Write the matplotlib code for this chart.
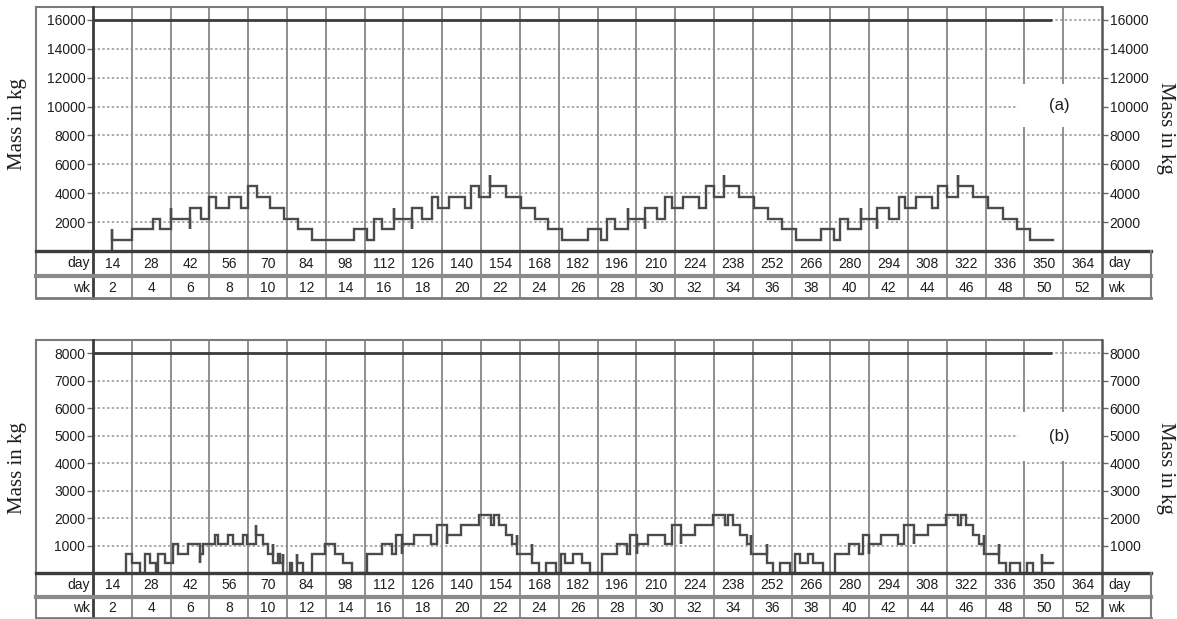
import matplotlib
matplotlib.use('Agg')
import matplotlib.pyplot as plt
from matplotlib.lines import Line2D
from matplotlib.patches import Rectangle
import matplotlib.transforms as mtransforms

plt.rcParams['font.family'] = ['Liberation Sans', 'DejaVu Sans']

# ---------------- data ----------------
day_labels = [14, 28, 42, 56, 70, 84, 98, 112, 126, 140, 154, 168, 182,
              196, 210, 224, 238, 252, 266, 280, 294, 308, 322, 336, 350, 364]
week_labels = [2, 4, 6, 8, 10, 12, 14, 16, 18, 20, 22, 24, 26,
               28, 30, 32, 34, 36, 38, 40, 42, 44, 46, 48, 50, 52]

ticks_a = [2000, 4000, 6000, 8000, 10000, 12000, 14000, 16000]
ticks_b = [1000, 2000, 3000, 4000, 5000, 6000, 7000, 8000]

cap_a_days = [7, 353]
cap_a_kg = [16000, 16000]
cap_b_days = [7, 353]
cap_b_kg = [8000, 8000]

# panel (a): stock trace, vertices (day, kg) drawn as post-steps
a_days = [14, 14, 14, 21, 28.5, 31, 35, 35, 42, 42, 46, 49, 51.3, 56, 60.5, 63, 66,
          71, 76, 81, 86,
          101.2, 106, 108.2, 111.2, 115.5, 115.5, 122, 122, 125.8, 129.2, 131.6,
          135.5, 141.2, 143.5, 146.4, 150.3, 150.3, 155.9, 161.3, 166.4, 171.3, 176.1,
          185.4, 190.3, 192.3, 195.3, 200.1, 200.1, 206, 206, 210.3, 213.5, 215.7,
          220, 225.6, 228, 231, 234.8, 234.8, 239.9, 245.6, 250.6, 255.6, 260.5,
          269.6, 274.3, 276.5, 279.5, 284, 284, 289.8, 289.8, 294, 297.6, 299.8,
          304, 309.6, 312, 315, 319, 319, 324.4, 330, 335.2, 340.2, 345, 353.4]
a_kg = [0, 1500, 750, 1500, 2250, 1500, 3000, 2250, 1500, 3000, 2250, 3750, 3000, 3750, 3000, 4500, 3750,
        3000, 2250, 1500, 750,
        1500, 750, 2250, 1500, 3000, 2250, 1500, 3000, 2250, 3750, 3000,
        3750, 3000, 4500, 3750, 5250, 4500, 3750, 3000, 2250, 1500, 750,
        1500, 750, 2250, 1500, 3000, 2250, 1500, 3000, 2250, 3750, 3000,
        3750, 3000, 4500, 3750, 5250, 4500, 3750, 3000, 2250, 1500, 750,
        1500, 750, 2250, 1500, 3000, 2250, 1500, 3000, 2250, 3750, 3000,
        3750, 3000, 4500, 3750, 5250, 4500, 3750, 3000, 2250, 1500, 750, 750]

# panel (b): stock trace, vertices (day, kg) drawn as post-steps
b_days = [18.9, 18.9, 21, 24, 25.8, 27.5, 29.8, 30.6, 33, 35.7, 37.8, 41.4, 45.6, 45.6,
          46.8, 51, 52.2, 55.8, 57.6, 61.2, 62.4, 65.8, 65.8, 68.5, 70.3, 72.1, 72.1,
          73.9, 74.5, 75.7, 75.7, 78.1, 78.7, 80.5, 80.5, 82.9, 85.9, 90.7, 94.3, 97.3, 100.3,
          106, 111.4, 115, 116.2, 118.6, 118.6, 122.8, 128.8, 131.2, 134.8, 134.8, 139.6,
          146.3, 150.5, 151.7, 153.5, 156, 158.3, 160, 160, 165.5, 165.5, 168,
          170.6, 174.2, 176, 177.2, 180.2, 183.3, 186.3,
          190.5, 195.9, 199.5, 200.7, 203.1, 203.1, 207.3, 213.3, 215.7, 219.3, 219.3, 224.1,
          230.8, 235, 236.2, 238, 240.4, 242.8, 244.5, 244.5, 250, 250, 252.4,
          255, 258.4, 260.2, 262, 265, 266.9, 270.5,
          274.5, 279.9, 283.5, 284.7, 287.1, 287.1, 291.3, 297.3, 299.7, 303.3, 303.3, 308.1,
          314.8, 319, 320.2, 322, 324.4, 326.8, 328.5, 328.5, 334, 334, 336.5,
          337.8, 341.4, 343.8, 346.2, 349.5, 349.5, 353.4]
b_kg = [0, 700, 350, 0, 700, 350, 0, 700, 350, 1050, 700, 1050, 350, 700,
        1050, 1400, 1050, 1400, 1050, 1400, 1050, 1750, 1400, 1050, 700, 1050, 350,
        700, 350, 700, 0, 350, 0, 700, 350, 0, 700, 1050, 700, 350, 0,
        700, 1050, 700, 1400, 700, 1050, 1400, 1050, 1750, 1050, 1400, 1750,
        2100, 1750, 2100, 1750, 1400, 1050, 1400, 700, 1050, 350, 0,
        350, 0, 700, 350, 700, 350, 0,
        700, 1050, 700, 1400, 700, 1050, 1400, 1050, 1750, 1050, 1400, 1750,
        2100, 1750, 2100, 1750, 1400, 1050, 1400, 700, 1050, 350, 0,
        350, 0, 700, 350, 700, 350, 0,
        700, 1050, 700, 1400, 700, 1050, 1400, 1050, 1750, 1050, 1400, 1750,
        2100, 1750, 2100, 1750, 1400, 1050, 1400, 700, 1050, 350, 0,
        350, 0, 350, 0, 700, 350, 350]

# ---------------- layout ----------------
W, H = 1177, 619
fig = plt.figure(figsize=(W / 100, H / 100), dpi=100)
fig.patch.set_facecolor('white')

PL, PR = 93, 1102      # plot area left/right (px)
FL, TR = 36, 1151      # outer frame left, table right (px)
X0, X1 = 7, 371        # day range of plot area
bounds = [d + 7 for d in day_labels[:-1]]

TXT = '#1e1e1e'
GRID_V = '#8e8e8e'
GRID_H = '#a4a4a4'
FRAME = '#7a7a7a'
DARK = '#3c3c3c'


def fig_line(xs, ys, **kw):
    fig.add_artist(Line2D([x / W for x in xs], [1 - y / H for y in ys],
                          transform=fig.transFigure, **kw))


def panel(top, zero, sep, bottom, ymax, ticks, days, kg, cdays, ckg, tag,
          tag_box, ylab_l, ylab_r):
    hpx = zero - top
    ax = fig.add_axes([PL / W, 1 - zero / H, (PR - PL) / W, hpx / H])
    ax.set_xlim(X0, X1)
    ax.set_ylim(0, ymax)
    for s in ax.spines.values():
        s.set_visible(False)
    ax.set_xticks([])
    ax.set_yticks(ticks)
    ax.set_yticklabels([str(t) for t in ticks])
    ax.tick_params(axis='y', which='both', left=True, right=True,
                   labelleft=True, labelright=True, length=4, width=1.0,
                   color='#666666', labelsize=10, labelcolor=TXT, pad=1.5)
    ax.grid(axis='y', linestyle=(0, (1.3, 1.3)), color=GRID_H, lw=1.3, zorder=0)
    ax.set_axisbelow(True)
    trans = mtransforms.blended_transform_factory(ax.transData, ax.transAxes)
    yb = (zero - bottom) / hpx
    for b in bounds:
        ax.plot([b, b], [yb, 1], transform=trans, clip_on=False,
                color=GRID_V, lw=1.4, zorder=1)
    # label box for the panel tag
    bx0, by0, bx1, by1 = tag_box
    ax.add_patch(Rectangle(((bx0 - PL) / (PR - PL), (zero - by1) / hpx),
                           (bx1 - bx0) / (PR - PL), (by1 - by0) / hpx,
                           transform=ax.transAxes, facecolor='white',
                           edgecolor='none', zorder=2))
    ax.text((bx0 + bx1) / 2 - PL + 0.0, 0, '', transform=ax.transAxes)
    ax.text(((bx0 + bx1) / 2 - PL) / (PR - PL), (zero - (by0 + by1) / 2) / hpx,
            tag, transform=ax.transAxes, ha='center', va='center',
            fontsize=12, color=TXT, zorder=3)
    # series
    ax.plot(cdays, ckg, color=DARK, lw=2.0, solid_capstyle='butt', zorder=4)
    ax.plot(days, kg, drawstyle='steps-post', color='#4b4b4b', lw=1.7,
            solid_joinstyle='miter', zorder=5)
    # table texts
    y1 = (zero - (zero + sep) / 2) / hpx
    y2 = (zero - (sep + bottom) / 2 - 1) / hpx
    for d, w in zip(day_labels, week_labels):
        ax.text(d, y1, str(d), transform=trans, ha='center', va='center',
                fontsize=10, color=TXT, clip_on=False)
        ax.text(d, y2, str(w), transform=trans, ha='center', va='center',
                fontsize=10, color=TXT, clip_on=False)
    lx = (90 - PL) / (PR - PL)
    rx = (1108 - PL) / (PR - PL)
    for yy, t in ((y1, 'day'), (y2, 'wk')):
        ax.text(lx, yy, t, transform=ax.transAxes, ha='right', va='center',
                fontsize=10, color=TXT, clip_on=False)
        ax.text(rx, yy, t, transform=ax.transAxes, ha='left', va='center',
                fontsize=10, color=TXT, clip_on=False)
    # frame and table rules
    fig_line([FL, PR], [top, top], color=FRAME, lw=1.5)
    fig_line([FL, FL], [top, bottom], color=FRAME, lw=1.5)
    fig_line([PL, PL], [top, bottom], color=DARK, lw=2.0)
    fig_line([PR, PR], [top, bottom], color='#555555', lw=1.8)
    fig_line([FL, TR], [zero, zero], color=DARK, lw=2.4)
    fig_line([FL, TR], [sep, sep], color='#8a8a8a', lw=3.0)
    fig_line([FL, TR], [bottom, bottom], color=FRAME, lw=2.0)
    fig_line([TR, TR], [zero, bottom], color=FRAME, lw=1.5)
    # axis titles
    fig.text(18 / W, 1 - ylab_l / H, 'Mass in kg', rotation=90, ha='center',
             va='center', family=['Liberation Serif', 'DejaVu Serif'],
             fontsize=15, color=TXT)
    fig.text(1165 / W, 1 - ylab_r / H, 'Mass in kg', rotation=270, ha='center',
             va='center', family=['Liberation Serif', 'DejaVu Serif'],
             fontsize=15, color=TXT)
    return ax


panel(top=7, zero=251, sep=276, bottom=298, ymax=16900, ticks=ticks_a,
      days=a_days, kg=a_kg, cdays=cap_a_days, ckg=cap_a_kg, tag='(a)',
      tag_box=(1018, 84, 1100, 127), ylab_l=124, ylab_r=128)

panel(top=340, zero=573, sep=597, bottom=618, ymax=8473, ticks=ticks_b,
      days=b_days, kg=b_kg, cdays=cap_b_days, ckg=cap_b_kg, tag='(b)',
      tag_box=(1018, 412, 1100, 461), ylab_l=468, ylab_r=468)

fig.savefig('out.png', dpi=100, facecolor='white')
